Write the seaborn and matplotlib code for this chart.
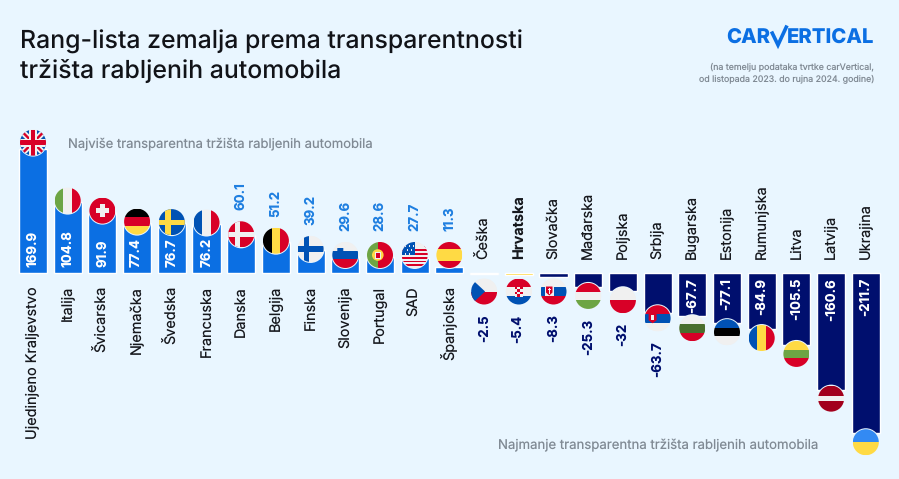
"""
Rang-lista zemalja: diverging bars with round flags at the bar ends.
"""

import numpy as np
import pandas as pd
import matplotlib
matplotlib.use('Agg')
import matplotlib.pyplot as plt
from matplotlib.patches import Circle, Polygon, Rectangle
import seaborn as sns

countries = ['Ujedinjeno Kraljevstvo', 'Italija', 'Švicarska', 'Njemačka', 'Švedska', 'Francuska',
             'Danska', 'Belgija', 'Finska', 'Slovenija', 'Portugal', 'SAD', 'Španjolska',
             'Češka', 'Hrvatska', 'Slovačka', 'Mađarska', 'Poljska', 'Srbija', 'Bugarska',
             'Estonija', 'Rumunjska', 'Litva', 'Latvija', 'Ukrajina']
scores = [169.9, 104.8, 91.9, 77.4, 76.7, 76.2, 60.1, 51.2, 39.2, 29.6, 28.6, 27.7, 11.3,
          -2.5, -5.4, -8.3, -25.3, -32, -63.7, -67.7, -77.1, -84.9, -105.5, -160.6, -211.7]
score_labels = ['169.9', '104.8', '91.9', '77.4', '76.7', '76.2', '60.1', '51.2', '39.2', '29.6',
                '28.6', '27.7', '11.3', '-2.5', '-5.4', '-8.3', '-25.3', '-32', '-63.7', '-67.7',
                '-77.1', '-84.9', '-105.5', '-160.6', '-211.7']

title_lines = ['Rang-lista zemalja prema transparentnosti', 'tržišta rabljenih automobila']
note_lines = ['(na temelju podataka tvrtke carVertical,', 'od listopada 2023. do rujna 2024. godine)']
top_note = 'Najviše transparentna tržišta rabljenih automobila'
bottom_note = 'Najmanje transparentna tržišta rabljenih automobila'

BG = '#E9F6FF'
BLUE = '#0B6FE3'
NAVY = '#000F6E'
YELLOW = '#FFD21F'
GREY = '#808A94'
F_RED, F_BLU, F_YEL, F_WHT, F_GRN, F_BLK = '#D80027', '#0052B4', '#FFDA44', '#F0F0F0', '#6DA544', '#000000'

# plain stripes: (direction, colours, relative widths)
STRIPES = {
    'Italija': ('v', [F_GRN, F_WHT, F_RED], [1, 1, 1]),
    'Njemačka': ('h', [F_BLK, F_RED, F_YEL], [1, 1, 1]),
    'Francuska': ('v', [F_BLU, F_WHT, F_RED], [1, 1, 1]),
    'Belgija': ('v', [F_BLK, F_YEL, F_RED], [1, 1, 1]),
    'Španjolska': ('h', [F_RED, F_YEL, F_RED], [1, 1.6, 1]),
    'Mađarska': ('h', [F_RED, F_WHT, F_GRN], [1, 1, 1]),
    'Poljska': ('h', [F_WHT, F_RED], [1, 1]),
    'Bugarska': ('h', [F_WHT, '#496E2D', F_RED], [1, 1, 1]),
    'Estonija': ('h', [F_BLU, F_BLK, F_WHT], [1, 1, 1]),
    'Rumunjska': ('v', [F_BLU, F_YEL, F_RED], [1, 1, 1]),
    'Litva': ('h', [F_YEL, F_GRN, F_RED], [1, 1, 1]),
    'Latvija': ('h', ['#A2001D', F_WHT, '#A2001D'], [1.2, 0.6, 1.2]),
    'Ukrajina': ('h', ['#338AF3', F_YEL], [1, 1]),
    'Slovenija': ('h', [F_WHT, F_BLU, F_RED], [1, 1, 1]),
    'Slovačka': ('h', [F_WHT, F_BLU, F_RED], [1, 1, 1]),
    'Hrvatska': ('h', [F_RED, F_WHT, F_BLU], [1, 1, 1]),
    'Srbija': ('h', [F_RED, F_BLU, F_WHT], [1, 1, 1]),
    'Češka': ('h', [F_WHT, F_RED], [1, 1]),
    'Portugal': ('v', [F_GRN, F_RED], [0.85, 1.15]),
}
NORDIC = {
    'Švedska': ('#0052B4', F_YEL),
    'Danska': (F_RED, F_WHT),
    'Finska': (F_WHT, F_BLU),
}

FLAG_R = 13.0
ZERO_Y = 273.0
PX_PER_UNIT = 0.339
POWER = 1.15
# how far a flag centre sits past the bar end, px
FLAG_SHIFT = {'Ujedinjeno Kraljevstvo': 6, 'Srbija': 5, 'Bugarska': 12}


def forward(v):
    # the reference bars are not quite proportional to their printed values
    v = np.asarray(v, dtype=float)
    return np.sign(v) * np.abs(v) ** POWER


def inverse(v):
    v = np.asarray(v, dtype=float)
    return np.sign(v) * np.abs(v) ** (1 / POWER)


def add_rect(ax, clip, x, y, w, h, color, z=6):
    patch = Rectangle((x, y), w, h, facecolor=color, edgecolor='none', zorder=z)
    ax.add_patch(patch)
    patch.set_clip_path(clip)


def add_poly(ax, clip, pts, color, z=6):
    patch = Polygon(pts, closed=True, facecolor=color, edgecolor='none', zorder=z)
    ax.add_patch(patch)
    patch.set_clip_path(clip)


def draw_flag(ax, name, cx, cy, r=FLAG_R):
    """Draw one round flag centred on (cx, cy) in pixel coordinates."""
    ax.add_patch(Circle((cx, cy), r + 1.0, facecolor=BG, edgecolor='none', zorder=4))
    clip = Circle((cx, cy), r, facecolor=F_WHT, edgecolor='none', zorder=5)
    ax.add_patch(clip)
    x0, y0, d = cx - r, cy - r, 2 * r

    if name in STRIPES:
        direction, colors, widths = STRIPES[name]
        pos = 0.0
        for color, w in zip(colors, widths):
            w = w / sum(widths) * d
            if direction == 'h':
                add_rect(ax, clip, x0, y0 + pos, d, w, color)
            else:
                add_rect(ax, clip, x0 + pos, y0, w, d, color)
            pos += w
    elif name in NORDIC:
        back, cross = NORDIC[name]
        add_rect(ax, clip, x0, y0, d, d, back)
        add_rect(ax, clip, x0, cy - 2.6, d, 5.2, cross)
        add_rect(ax, clip, cx - 6.5, y0, 5.2, d, cross)
    elif name == 'Švicarska':
        add_rect(ax, clip, x0, y0, d, d, F_RED)
        add_rect(ax, clip, cx - 6.5, cy - 2.2, 13, 4.4, F_WHT)
        add_rect(ax, clip, cx - 2.2, cy - 6.5, 4.4, 13, F_WHT)
    elif name == 'SAD':
        for k in range(7):
            add_rect(ax, clip, x0, y0 + k * d / 7, d, d / 14, F_RED if k else F_WHT)
        add_rect(ax, clip, x0, y0 + d / 7, d, d / 14, F_WHT)
        for k in range(7):
            add_rect(ax, clip, x0, y0 + (k + 0.5) * d / 7, d, d / 14, F_WHT)
        add_rect(ax, clip, x0, y0, r, r, F_BLU)
        for dx, dy in [(3, 3), (7, 3), (11, 3), (5, 7), (9, 7), (3, 11), (7, 11)]:
            add_rect(ax, clip, x0 + dx, y0 + dy, 1.6, 1.6, F_WHT, z=7)
    elif name == 'Ujedinjeno Kraljevstvo':
        add_rect(ax, clip, x0, y0, d, d, F_BLU)
        for sx, lw, color in [(1, 3.0, F_WHT), (1, 1.2, F_RED)]:
            for sign in (1, -1):
                u = np.array([1, sign]) / np.sqrt(2)
                n = np.array([-u[1], u[0]]) * lw
                c = np.array([cx, cy])
                add_poly(ax, clip, [c - 20 * u - n, c + 20 * u - n, c + 20 * u + n, c - 20 * u + n], color)
        add_rect(ax, clip, x0, cy - 4, d, 8, F_WHT, z=7)
        add_rect(ax, clip, cx - 4, y0, 8, d, F_WHT, z=7)
        add_rect(ax, clip, x0, cy - 2.4, d, 4.8, F_RED, z=8)
        add_rect(ax, clip, cx - 2.4, y0, 4.8, d, F_RED, z=8)

    # small emblems on top of the stripes
    if name == 'Češka':
        add_poly(ax, clip, [(x0, y0), (cx + 1, cy), (x0, y0 + d)], F_BLU, z=7)
    elif name == 'Hrvatska':
        add_rect(ax, clip, cx - 4, cy - 5, 8, 10, F_WHT, z=7)
        for row in range(4):
            for col in range(3):
                if (row + col) % 2 == 0:
                    add_rect(ax, clip, cx - 4 + col * 2.67, cy - 5 + row * 2.5, 2.67, 2.5, F_RED, z=8)
    elif name == 'Slovačka':
        add_rect(ax, clip, cx - 8.5, cy - 6, 8.5, 10, F_WHT, z=7)
        add_poly(ax, clip, [(cx - 7.5, cy - 5), (cx - 1, cy - 5), (cx - 1, cy + 1),
                            (cx - 4.2, cy + 4), (cx - 7.5, cy + 1)], F_RED, z=8)
        add_rect(ax, clip, cx - 4.8, cy - 4, 1.2, 6, F_WHT, z=9)
        add_rect(ax, clip, cx - 6, cy - 2.5, 3.6, 1.1, F_WHT, z=9)
    elif name == 'Srbija':
        add_poly(ax, clip, [(cx - 9, cy - 5), (cx - 1, cy - 5), (cx - 1, cy + 2),
                            (cx - 5, cy + 5), (cx - 9, cy + 2)], F_RED, z=7)
        add_rect(ax, clip, cx - 6.5, cy - 3, 3, 5, F_WHT, z=8)
    elif name == 'Slovenija':
        add_poly(ax, clip, [(cx - 8, cy - 7), (cx - 2, cy - 7), (cx - 2, cy - 2),
                            (cx - 5, cy + 1), (cx - 8, cy - 2)], F_BLU, z=7)
    elif name == 'Portugal':
        ax.add_patch(Circle((cx - 2.2, cy), 5.8, facecolor=F_YEL, edgecolor='none', zorder=7))
        add_rect(ax, clip, cx - 5, cy - 3.5, 5.6, 7, F_WHT, z=8)
        add_rect(ax, clip, cx - 4, cy - 2.5, 3.6, 5, F_RED, z=9)


sns.set_theme(style='white', rc={'figure.facecolor': BG, 'axes.facecolor': 'none'})
plt.rcParams['font.family'] = ['Inter', 'DejaVu Sans']
plt.rcParams['text.hinting'] = 'no_hinting'
plt.rcParams['text.hinting_factor'] = 1

fig = plt.figure(figsize=(8.99, 4.79), dpi=100, facecolor=BG)
W, H = 899.0, 479.0

# bar axes: x slots are 34.7 px wide, first centre at x=33
pitch = 34.7
left = 33 - pitch / 2
top_h, bottom_h = 153.0, -187.0
ax = fig.add_axes([left / W, (H - (ZERO_Y - bottom_h)) / H, pitch * 25 / W, (top_h - bottom_h) / H])

df = pd.DataFrame({'country': countries, 'score': scores})
colors = {c: (BLUE if s > 0 else NAVY) for c, s in zip(countries, scores)}
colors['Hrvatska'] = YELLOW
sns.barplot(data=df, x='country', y='score', hue='country', palette=colors, order=countries,
            hue_order=countries, dodge=False, legend=False, width=0.807, saturation=1, ax=ax)
ax.set_yscale('function', functions=(forward, inverse))
ax.set_ylim(float(inverse(bottom_h / PX_PER_UNIT)), float(inverse(top_h / PX_PER_UNIT)))
ax.set_xlim(-0.5, 24.5)
ax.axis('off')

# overlay in image pixels (y down) for flags and text
px = fig.add_axes([0, 0, 1, 1], facecolor='none')
px.set_xlim(0, W)
px.set_ylim(H, 0)
px.axis('off')

for i, (name, score, label) in enumerate(zip(countries, scores, score_labels)):
    bx, by = ax.transData.transform((i, score))
    by = H - by
    if score > 0:
        cy = min(by - FLAG_SHIFT.get(name, 1), ZERO_Y - 18)
    elif name in FLAG_SHIFT:
        cy = by + FLAG_SHIFT[name]
    else:
        cy = max(by + 9, ZERO_Y + 18.5)
    draw_flag(px, name, bx, cy)

    bold = name == 'Hrvatska'
    name_y = ZERO_Y + 13 if score > 0 else ZERO_Y - 14
    px.text(bx, name_y, name, rotation=90, ha='center', va='top' if score > 0 else 'bottom',
            fontsize=10.4, color='#16181D', fontweight='bold' if bold else 'normal', zorder=10)

    val_kw = dict(rotation=90, ha='center', fontsize=9.6, fontweight='bold', zorder=10)
    if score >= 70:
        px.text(bx, ZERO_Y - 6, label, va='bottom', color='white', **val_kw)
    elif score > 0:
        px.text(bx, cy - FLAG_R - 11, label, va='bottom', color='#1F7FE0', **val_kw)
    elif score > -65:
        px.text(bx, cy + FLAG_R + 10, label, va='top', color=NAVY, **val_kw)
    else:
        px.text(bx, ZERO_Y + 5, label, va='top', color='white', **val_kw)

# title, notes
px.text(20, 42, title_lines[0], fontsize=17.9, fontweight='medium', color='#111318', va='center')
px.text(20, 72, title_lines[1], fontsize=17.9, fontweight='medium', color='#111318', va='center')
px.text(68, 144, top_note, fontsize=9.4, color=GREY, va='center')
px.text(498, 445, bottom_note, fontsize=9.5, color=GREY, va='center')
px.text(874, 67, note_lines[0], fontsize=6.35, color=GREY, va='center', ha='right')
px.text(874, 79, note_lines[1], fontsize=6.35, color=GREY, va='center', ha='right')

# logo: two pieces of text with the slanted V between them
LOGO = '#0B6FE3'
px.text(726, 38, 'CAR', fontsize=14.6, fontweight='heavy', color=LOGO, va='center', ha='left')
px.text(874, 38, 'ERTICAL', fontsize=14.6, fontweight='heavy', color=LOGO, va='center', ha='right')
px.plot([771.5, 778, 787], [31.5, 45, 25.5], color=LOGO, lw=2.6, solid_joinstyle='miter',
        solid_capstyle='butt')

fig.savefig('out.png', dpi=100, facecolor=BG)
